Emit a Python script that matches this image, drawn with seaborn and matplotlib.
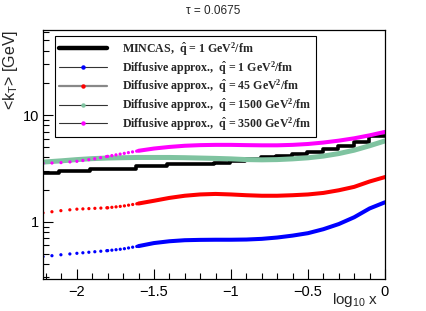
import numpy as np
import matplotlib
matplotlib.use("Agg")
import matplotlib.pyplot as plt
import seaborn as sns
from matplotlib.lines import Line2D
from matplotlib.font_manager import FontProperties
from matplotlib.ticker import MultipleLocator, LogLocator, NullFormatter, FixedLocator, FuncFormatter

# --- data (log10 x grid, <kT> in GeV) ---
LOGX = [-2.22, -2.1, -2.0, -1.9, -1.8, -1.7, -1.6, -1.5, -1.4, -1.3, -1.2, -1.1,
        -1.0, -0.9, -0.8, -0.7, -0.6, -0.5, -0.4, -0.3, -0.2, -0.1, 0.0]

kt_q1 = [0.47, 0.49, 0.505, 0.52, 0.535, 0.555, 0.59, 0.63, 0.655, 0.67, 0.675, 0.677,
         0.677, 0.68, 0.69, 0.71, 0.74, 0.78, 0.85, 0.95, 1.10, 1.33, 1.52]
kt_q45 = [1.21, 1.27, 1.31, 1.33, 1.35, 1.40, 1.48, 1.57, 1.67, 1.75, 1.80, 1.82,
          1.80, 1.77, 1.75, 1.75, 1.77, 1.80, 1.86, 1.97, 2.12, 2.38, 2.62]
kt_q1500 = [3.62, 3.72, 3.82, 3.90, 3.95, 3.98, 4.00, 4.00, 4.00, 3.98, 3.95, 3.92,
            3.88, 3.82, 3.80, 3.82, 3.88, 3.97, 4.12, 4.35, 4.68, 5.15, 5.72]
kt_q3500 = [3.52, 3.58, 3.68, 3.85, 4.10, 4.35, 4.62, 4.85, 5.02, 5.15, 5.22, 5.25,
            5.25, 5.22, 5.20, 5.20, 5.25, 5.35, 5.52, 5.75, 6.05, 6.45, 6.95]

# MINCAS histogram: 22 bins between -2.22 and 0
mincas_edges = np.linspace(-2.22, 0.0, 23)
mincas_kt = [2.83, 3.00, 3.00, 3.15, 3.15, 3.15, 3.33, 3.33, 3.45, 3.45, 3.50,
             3.55, 3.70, 3.85, 4.00, 4.15, 4.35, 4.50, 4.80, 5.15, 5.60, 6.40]

labels = [r"MINCAS,  $\hat{q}$ = 1 GeV$^{2}$/fm",
          r"Diffusive approx.,  $\hat{q}$ = 1 GeV$^{2}$/fm",
          r"Diffusive approx.,  $\hat{q}$ = 45 GeV$^{2}$/fm",
          r"Diffusive approx.,  $\hat{q}$ = 1500 GeV$^{2}$/fm",
          r"Diffusive approx.,  $\hat{q}$ = 3500 GeV$^{2}$/fm"]

sns.set_style("ticks")
plt.rcParams["font.family"] = ["Liberation Sans", "DejaVu Sans"]
plt.rcParams["mathtext.fontset"] = "custom"
plt.rcParams["mathtext.rm"] = "Liberation Serif:bold"
plt.rcParams["mathtext.it"] = "Liberation Serif:bold"
plt.rcParams["mathtext.bf"] = "Liberation Serif:bold"
plt.rcParams["mathtext.sf"] = "Liberation Sans"

PX = 1 / 1.389  # points per pixel at 100 dpi

fig = plt.figure(figsize=(4.27, 3.11), dpi=100)
ax = fig.add_axes([43 / 427, 32 / 311, 342 / 427, 249 / 311])


def draw_curve(vals, color, lw_dot=2.4, lw_solid=2.9):
    # sparse dots on the left (as in the reference), solid where points merge
    for a, b, spacing in [(0, 2, 9.0), (2, 4, 6.0), (4, 6, 4.2)]:
        sns.lineplot(x=LOGX[a:b + 1], y=vals[a:b + 1], ax=ax, color=color,
                     linewidth=lw_dot, estimator=None, sort=False, legend=False)
        ln = ax.lines[-1]
        ln.set_linestyle((0, (0.001, spacing * PX / lw_dot)))
        ln.set_dash_capstyle("round")
    sns.lineplot(x=LOGX[6:], y=vals[6:], ax=ax, color=color, linewidth=lw_solid,
                 estimator=None, sort=False, legend=False)


green = "#7fc3a0"

# MINCAS step histogram
sns.lineplot(x=mincas_edges, y=mincas_kt + mincas_kt[-1:], ax=ax, color="black",
             linewidth=2.6, drawstyle="steps-post", estimator=None, sort=False,
             legend=False)

# green curve is drawn as a thick solid band
sns.lineplot(x=LOGX, y=kt_q1500, ax=ax, color=green, linewidth=3.6,
             estimator=None, sort=False, legend=False)
draw_curve(kt_q45, "#ff0000")
draw_curve(kt_q1, "#0000ff")
draw_curve(kt_q3500, "#ff00ff")

ax.set_yscale("log")
ax.set_xlim(-2.22, 0.0)
ax.set_ylim(0.29, 62.7)

ax.xaxis.set_major_locator(FixedLocator([-2, -1.5, -1, -0.5, 0]))
ax.xaxis.set_major_formatter(FuncFormatter(
    lambda v, p: ("%g" % v).replace("-", "\u2212")))
ax.xaxis.set_minor_locator(MultipleLocator(0.1))
ax.yaxis.set_major_locator(FixedLocator([1, 10]))
ax.yaxis.set_major_formatter(FuncFormatter(lambda v, p: "%g" % v))
ax.yaxis.set_minor_locator(LogLocator(base=10, subs=np.arange(2, 10)))
ax.yaxis.set_minor_formatter(NullFormatter())

ax.tick_params(which="both", direction="in", top=False, right=False,
               colors="black", labelsize=10.5)
ax.tick_params(which="major", length=7.5, width=0.8)
ax.tick_params(which="minor", length=4, width=0.8)
ax.tick_params(axis="x", which="major", pad=4)
ax.tick_params(axis="y", which="major", pad=3)
for s in ax.spines.values():
    s.set_visible(True)
    s.set_linewidth(0.9)
    s.set_color("black")
ax.set_xlabel("")
ax.set_ylabel("")

fig.text(213 / 427, 1 - 11 / 311, "\u03c4 = 0.0675", ha="center", va="center",
         fontsize=8.5)
fig.text(11 / 427, 1 - 30 / 311, r"<k$_\mathsf{T}$> [GeV]", rotation=90,
         ha="center", va="top", fontsize=11.5)
fig.text(378 / 427, 1 - 304 / 311, r"log$_\mathsf{10}$ x", ha="right",
         va="baseline", fontsize=11)

handles = [Line2D([], [], color="black", linewidth=3.2),
           Line2D([], [], color="#333333", linewidth=0.8, marker="o",
                  markersize=2.2, markerfacecolor="#0000ff", markeredgecolor="#0000ff"),
           Line2D([], [], color="#888888", linewidth=1.6, marker="o",
                  markersize=2.2, markerfacecolor="#ff0000", markeredgecolor="#ff0000"),
           Line2D([], [], color="#333333", linewidth=0.8, marker="o",
                  markersize=2.2, markerfacecolor=green, markeredgecolor=green),
           Line2D([], [], color="#333333", linewidth=0.8, marker="o",
                  markersize=2.2, markerfacecolor="#ff00ff", markeredgecolor="#ff00ff")]

leg = ax.legend(handles, labels, loc="upper left",
                bbox_to_anchor=(55 / 427, 1 - 36 / 311), bbox_transform=fig.transFigure,
                borderaxespad=0, prop=FontProperties(family="Liberation Serif",
                                                     weight="bold", size=8.6),
                frameon=True, fancybox=False, shadow=False, handlelength=4.0,
                handletextpad=1.3, labelspacing=0.1, borderpad=0.35)
leg.get_frame().set_edgecolor("black")
leg.get_frame().set_linewidth(0.8)
leg.get_frame().set_alpha(1)

fig.savefig("out.png", dpi=100)
